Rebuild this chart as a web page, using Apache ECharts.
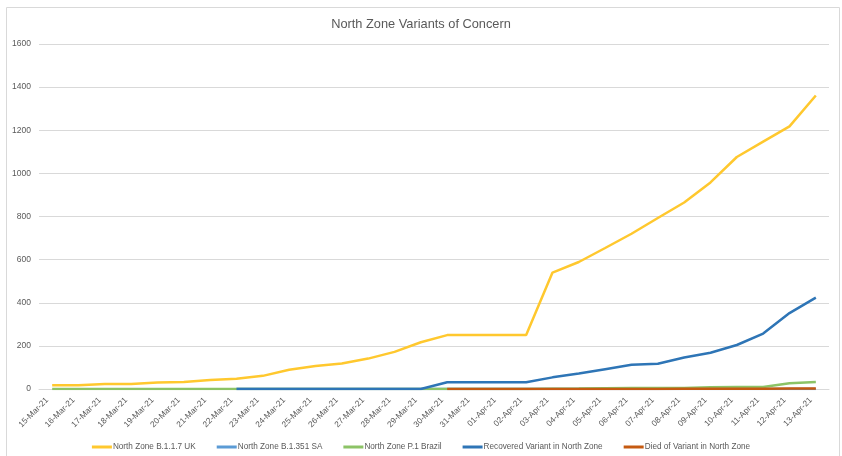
<!DOCTYPE html>
<html>
<head>
<meta charset="utf-8">
<script src="https://cdn.jsdelivr.net/npm/echarts@6/dist/echarts.min.js"></script>
<style>
html,body{margin:0;padding:0;background:#fff;}
#chart{width:842px;height:456px;}
</style>
</head>
<body>
<div id="chart"></div>
<script>
const titleText = 'North Zone Variants of Concern';
const categories = ['15-Mar-21','16-Mar-21','17-Mar-21','18-Mar-21','19-Mar-21','20-Mar-21','21-Mar-21','22-Mar-21','23-Mar-21','24-Mar-21','25-Mar-21','26-Mar-21','27-Mar-21','28-Mar-21','29-Mar-21','30-Mar-21','31-Mar-21','01-Apr-21','02-Apr-21','03-Apr-21','04-Apr-21','05-Apr-21','06-Apr-21','07-Apr-21','08-Apr-21','09-Apr-21','10-Apr-21','11-Apr-21','12-Apr-21','13-Apr-21'];
const seriesNames = ['North Zone B.1.1.7 UK','North Zone B.1.351 SA','North Zone P.1 Brazil','Recovered Variant in North Zone','Died of Variant in North Zone'];
const ukValues = [17,17,23,23,30,33,42,48,61,89,107,118,141,172,217,250,250,250,250,540,589,654,720,793,865,958,1076,1147,1218,1361];
const saValues = [null,null,null,null,null,null,null,0,0,0,0,0,0,0,0,0,0,0,0,0,0,0,0,0,0,0,0,0,0,0];
const brazilValues = [0,0,0,0,0,0,0,0,0,0,0,0,0,0,0,0,0,0,0,1,2,4,5,5,5,8,9,9,27,33];
const recoveredValues = [null,null,null,null,null,null,null,0,0,0,0,0,0,0,0,31,31,31,31,54,72,92,112,117,146,168,204,257,352,424];
const diedValues = [null,null,null,null,null,null,null,null,null,null,null,null,null,null,null,0,0,0,0,0,0,0,0,0,1,1,1,1,2,2];
const colors = ['#FFC82E','#5B9BD5','#8CC366','#2E75B6','#C55A11'];
const yTicks = {min:0, max:1600, interval:200};

const font = '"Liberation Sans", Arial, sans-serif';
const chart = echarts.init(document.getElementById('chart'), null, {renderer:'canvas'});
const dataSets = [ukValues, saValues, brazilValues, recoveredValues, diedValues];
chart.setOption({
  animation:false,
  color: colors,
  textStyle:{fontFamily:font},
  graphic:[{type:'rect', shape:{x:6.5,y:7.5,width:833,height:470}, style:{fill:'none', stroke:'#D9D9D9', lineWidth:1}, silent:true}],
  title:{text:titleText, left:'center', top:13, textStyle:{fontFamily:font, fontSize:12.8, fontWeight:'normal', color:'#595959'}},
  grid:{left:39, right:13, top:44, bottom:67, containLabel:false},
  legend:{data:seriesNames, left:'center', top:438, icon:'rect', itemWidth:20, itemHeight:3, itemGap:21,
    textStyle:{fontFamily:font, fontSize:8.2, color:'#595959', padding:[0,0,0,-4]}},
  xAxis:{type:'category', data:categories, boundaryGap:true,
    axisLine:{show:true, lineStyle:{color:'#D9D9D9', width:1}}, axisTick:{show:false},
    axisLabel:{rotate:45, interval:0, fontSize:8.3, color:'#595959', margin:5, padding:[0,7,0,0], fontFamily:font}},
  yAxis:{type:'value', min:yTicks.min, max:yTicks.max, interval:yTicks.interval,
    axisLine:{show:false}, axisTick:{show:false},
    splitLine:{lineStyle:{color:'#D9D9D9', width:1}},
    axisLabel:{fontSize:8.5, color:'#595959', margin:8, fontFamily:font, formatter:(v)=>String(v)}},
  series: seriesNames.map((n,i)=>({name:n, type:'line', data:dataSets[i], symbol:'none', showSymbol:false,
    lineStyle:{width:2.5, color:colors[i]}, itemStyle:{color:colors[i]}, connectNulls:false}))
});
</script>
</body>
</html>
